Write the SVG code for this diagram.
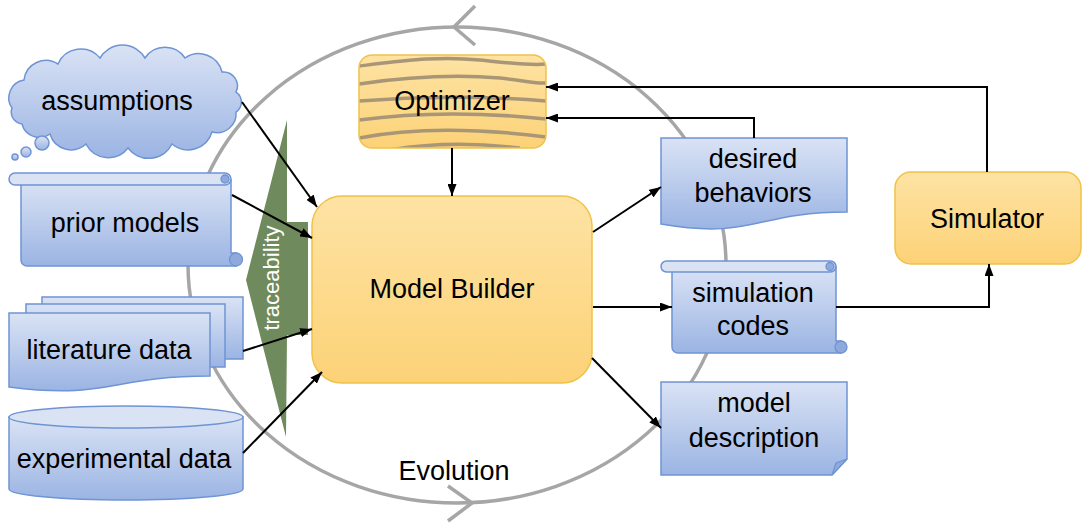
<svg xmlns="http://www.w3.org/2000/svg" width="1084" height="528" viewBox="0 0 1084 528">
<style>
.t{font-family:"Liberation Sans",Arial,sans-serif;font-size:27px;fill:#000;text-anchor:middle}
.blue{fill:url(#gBlue);stroke:#6f94d4;stroke-width:1.5}
.roll{fill:#d9e3f4;stroke:#6f94d4;stroke-width:1.5}
.curl{fill:#8fa9dc;stroke:#6f94d4;stroke-width:1.3}
.yel{fill:url(#gYel);stroke:#f0c24a;stroke-width:1.5}
.con{fill:none;stroke:#000;stroke-width:2}
.arrowed{marker-end:url(#ah)}
.evo{fill:none;stroke:#a6a6a6;stroke-width:3.5}
.wood{fill:none;stroke:#a99677;stroke-width:3.5}
</style>
<defs>
<linearGradient id="gBlue" x1="0" y1="0" x2="0" y2="1">
<stop offset="0" stop-color="#dae3f5"/>
<stop offset="1" stop-color="#9bb4e3"/>
</linearGradient>
<linearGradient id="gYel" x1="0" y1="0" x2="0" y2="1">
<stop offset="0" stop-color="#fee3a4"/>
<stop offset="1" stop-color="#fcd277"/>
</linearGradient>
<marker id="ah" viewBox="0 0 12 9" refX="12" refY="4.5" markerWidth="6" markerHeight="4.5" orient="auto">
<path d="M0,0 L12,4.5 L0,9 Z" fill="#000"/>
</marker>
<clipPath id="optClip"><rect x="359" y="55" width="187" height="93" rx="13"/></clipPath>
</defs>

<g id="evolution-cycle">
<ellipse class="evo" cx="457" cy="265" rx="269" ry="238"/>
<polyline class="evo" points="475,6 454,27 475,45"/>
<polyline class="evo" points="448,486 472,503 448,521"/>
<text class="t" x="454" y="480">Evolution</text>
</g>

<g id="traceability">
<polygon points="287,120 287,222 308,222 308,335 287,335 286,437 246,280" fill="#6f8a5c"/>
<text x="0" y="0" transform="translate(279,278) rotate(-90)" style="font-family:'Liberation Sans',Arial,sans-serif;font-size:22px;fill:#fff;text-anchor:middle">traceability</text>
</g>

<g id="assumptions">
<path class="blue" d="M12,108 A18,18 0 0 1 24,80 A22,22 0 0 1 58,64 A25,25 0 0 1 100,58 A26,26 0 0 1 145,58 A24,24 0 0 1 185,58 A24,24 0 0 1 222,72 A14,14 0 0 1 236,92 A12,12 0 0 1 236,112 A19,19 0 0 1 212,132 A25,25 0 0 1 172,144 A26,26 0 0 1 128,148 A25,25 0 0 1 86,144 A22,22 0 0 1 50,134 A18,18 0 0 1 22,124 A12,12 0 0 1 12,108 Z"/>
<circle class="blue" cx="42" cy="143" r="7"/>
<circle class="blue" cx="26" cy="152" r="5"/>
<circle class="blue" cx="15" cy="157" r="3"/>
<text class="t" x="117" y="110">assumptions</text>
</g>

<g id="prior-models">
<path class="blue" d="M21,180 V260 A6,6 0 0 0 27,266 H236 V253 H231 V180 Z"/>
<rect class="roll" x="9" y="173" width="222" height="12" rx="6"/>
<circle class="curl" cx="225" cy="179" r="4"/>
<circle class="curl" cx="236" cy="259.5" r="6.5"/>
<text class="t" x="125" y="232">prior models</text>
</g>

<g id="literature-data">
<rect class="blue" x="42" y="297" width="201" height="62"/>
<rect class="blue" x="26" y="304" width="199" height="63"/>
<path class="blue" d="M9,313 H210 V376 C110,376 110,400 9,387 Z"/>
<text class="t" x="109" y="359">literature data</text>
</g>

<g id="experimental-data">
<path class="blue" d="M9,417 V489 A117,11 0 0 0 243,489 V417 Z"/>
<ellipse class="roll" cx="126" cy="417" rx="117" ry="11"/>
<text class="t" x="124" y="468">experimental data</text>
</g>

<g id="optimizer">
<rect x="359" y="55" width="187" height="93" rx="13" fill="url(#gYel)"/>
<g clip-path="url(#optClip)">
<path class="wood" d="M359,66 C410,60 440,56 480,60 C510,63 530,66 546,64"/>
<path class="wood" d="M359,84 C400,78 450,74 500,78 C520,80 535,84 546,83"/>
<path class="wood" d="M359,101 C410,97 470,95 546,101"/>
<path class="wood" d="M359,120 C410,113 470,111 546,119"/>
<path class="wood" d="M359,138 C400,130 460,126 546,137"/>
<path class="wood" d="M390,150 C430,143 470,142 520,148"/>
</g>
<rect x="359" y="55" width="187" height="93" rx="13" fill="none" stroke="#f0c24a" stroke-width="1.5"/>
<text class="t" x="452" y="110">Optimizer</text>
</g>

<g id="model-builder">
<rect class="yel" x="312" y="196" width="280" height="187" rx="30"/>
<text class="t" x="452" y="298">Model Builder</text>
</g>

<g id="desired-behaviors">
<path class="blue" d="M661,138 H847 V212 C754,212 754,240 661,224 Z"/>
<text class="t" x="753" y="168">desired</text>
<text class="t" x="753" y="202">behaviors</text>
</g>

<g id="simulation-codes">
<path class="blue" d="M672,267 V347 A6,6 0 0 0 678,353 H841 V341 H836 V267 Z"/>
<rect class="roll" x="661" y="261" width="175" height="11" rx="5.5"/>
<circle class="curl" cx="830" cy="266.5" r="4"/>
<circle class="curl" cx="841" cy="347" r="6"/>
<text class="t" x="753" y="302">simulation</text>
<text class="t" x="753" y="335">codes</text>
</g>

<g id="model-description">
<path class="blue" d="M661,382 H847 V459 L832,475 H661 Z"/>
<path d="M832,475 L836,463 L847,459 Z" fill="#8fa9dc" stroke="#6f94d4" stroke-width="1.2"/>
<text class="t" x="754" y="412">model</text>
<text class="t" x="754" y="447">description</text>
</g>

<g id="simulator">
<rect class="yel" x="895" y="172" width="186" height="92" rx="16"/>
<text class="t" x="987" y="228">Simulator</text>
</g>

<g id="connectors">
<path class="con arrowed" d="M242,102 L317,207"/>
<path class="con arrowed" d="M232,195 L312,238"/>
<path class="con arrowed" d="M243,351 L312,329"/>
<path class="con arrowed" d="M243,453 L322,372"/>
<path class="con arrowed" d="M452,148 L452,196"/>
<path class="con arrowed" d="M593,232 L661,187"/>
<path class="con arrowed" d="M593,307 L672,307"/>
<path class="con arrowed" d="M592,358 L661,428"/>
<path class="con arrowed" d="M754,138 V118 H546"/>
<path class="con arrowed" d="M987,172 V87 H546"/>
<path class="con arrowed" d="M836,307 H989 V264"/>
</g>
</svg>
